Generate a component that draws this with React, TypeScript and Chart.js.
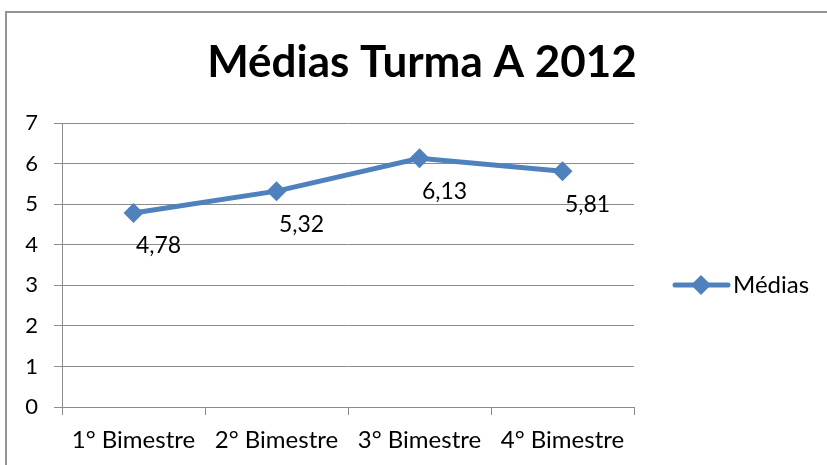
import React, { useEffect, useRef } from "react";
import { Chart, registerables } from "chart.js";

Chart.register(...registerables);

const categories = ["1° Bimestre", "2° Bimestre", "3° Bimestre", "4° Bimestre"];
const medias = [4.78, 5.32, 6.13, 5.81];
const seriesName = "Médias";
const titleText = "Médias Turma A 2012";
const yMin = 0;
const yMax = 7;
const yStep = 1;

const BLUE = "#4F81BD";
const GRID = "#8c8c8c";
const FONT = "Lato, 'Open Sans', sans-serif";

const fmt = (v: number) => v.toFixed(2).replace(".", ",");

export default function App() {
  const ref = useRef<HTMLCanvasElement | null>(null);

  useEffect(() => {
    if (!ref.current) return;

    const titlePlugin = {
      id: "customTitle",
      afterDraw(chart: any) {
        const ctx = chart.ctx;
        ctx.save();
        ctx.font = `bold 44px ${FONT}`;
        ctx.fillStyle = "#000";
        ctx.textAlign = "center";
        ctx.textBaseline = "middle";
        ctx.fillText(titleText, 422, 63);
        ctx.restore();
      },
    };

    const labelPlugin = {
      id: "dataLabels",
      afterDatasetsDraw(chart: any) {
        const ctx = chart.ctx;
        const meta = chart.getDatasetMeta(0);
        ctx.save();
        ctx.font = `23px ${FONT}`;
        ctx.fillStyle = "#000";
        ctx.textAlign = "center";
        ctx.textBaseline = "middle";
        meta.data.forEach((pt: any, i: number) => {
          ctx.fillText(fmt(medias[i]), pt.x + 25, pt.y + 33);
        });
        ctx.restore();
      },
    };

    const legendPlugin = {
      id: "customLegend",
      afterDraw(chart: any) {
        const ctx = chart.ctx;
        const y = 285;
        ctx.save();
        ctx.strokeStyle = BLUE;
        ctx.lineWidth = 5;
        ctx.lineCap = "round";
        ctx.beginPath();
        ctx.moveTo(675, y);
        ctx.lineTo(728, y);
        ctx.stroke();
        ctx.fillStyle = BLUE;
        ctx.beginPath();
        const r = 10;
        ctx.moveTo(701, y - r);
        ctx.lineTo(701 + r, y);
        ctx.lineTo(701, y + r);
        ctx.lineTo(701 - r, y);
        ctx.closePath();
        ctx.fill();
        ctx.font = `24px ${FONT}`;
        ctx.fillStyle = "#000";
        ctx.textAlign = "left";
        ctx.textBaseline = "middle";
        ctx.fillText(seriesName, 733, y);
        ctx.restore();
      },
    };

    const chart = new Chart(ref.current, {
      type: "line",
      data: {
        labels: categories,
        datasets: [
          {
            label: seriesName,
            data: medias,
            borderColor: BLUE,
            backgroundColor: BLUE,
            borderWidth: 5,
            pointStyle: "rectRot",
            pointRadius: 10,
            pointBorderWidth: 0,
            pointBackgroundColor: BLUE,
            pointBorderColor: BLUE,
            tension: 0,
          },
        ],
      },
      options: {
        responsive: false,
        animation: false,
        layout: { padding: { top: 123, right: 193, left: 0, bottom: 0 } },
        plugins: {
          legend: { display: false },
          title: { display: false },
          tooltip: { enabled: false },
        },
        scales: {
          x: {
            offset: true,
            grid: {
              display: true,
              drawOnChartArea: false,
              drawTicks: true,
              tickLength: 8,
              color: GRID,
              offset: true,
            },
            border: { display: true, color: GRID, width: 1 },
            ticks: {
              color: "#000",
              font: { family: FONT, size: 24 },
              padding: 11,
              maxRotation: 0,
              autoSkip: false,
            },
            afterFit(scale: any) {
              scale.height = 58;
            },
          },
          y: {
            min: yMin,
            max: yMax,
            grid: {
              color: GRID,
              tickLength: 8,
              lineWidth: 1,
            },
            border: { display: true, color: GRID, width: 1 },
            ticks: {
              stepSize: yStep,
              color: "#000",
              font: { family: FONT, size: 22 },
              padding: 16,
            },
            afterFit(scale: any) {
              scale.width = 62;
            },
          },
        },
      },
      plugins: [titlePlugin, labelPlugin, legendPlugin],
    });

    return () => chart.destroy();
  }, []);

  return (
    <div
      style={{
        position: "fixed",
        left: 0,
        top: 0,
        width: 827,
        height: 465,
        background: "#fff",
        overflow: "hidden",
      }}
    >
      <canvas ref={ref} width={827} height={465} style={{ position: "absolute", left: 0, top: 0, width: 827, height: 465 }} />
      <div
        style={{
          position: "absolute",
          left: 5,
          top: 11,
          width: 900,
          height: 600,
          borderLeft: "2px solid #949494",
          borderTop: "2px solid #949494",
          pointerEvents: "none",
        }}
      />
    </div>
  );
}
